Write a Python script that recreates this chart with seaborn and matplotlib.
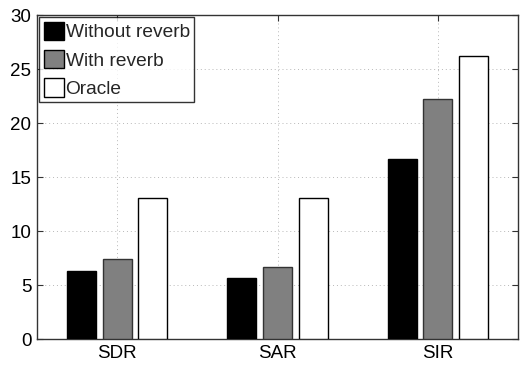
import matplotlib
matplotlib.use("Agg")
import matplotlib.pyplot as plt
import seaborn as sns
import pandas as pd

categories = ["SDR", "SAR", "SIR"]
series = ["Without reverb", "With reverb", "Oracle"]
without_reverb = [6.3, 5.65, 16.7]
with_reverb = [7.4, 6.67, 22.25]
oracle = [13.05, 13.08, 26.25]
colors = ["#000000", "#808080", "#ffffff"]
yticks = [0, 5, 10, 15, 20, 25, 30]

rows = []
for name, vals in zip(series, [without_reverb, with_reverb, oracle]):
    for c, v in zip(categories, vals):
        rows.append({"metric": c, "series": name, "value": v})
df = pd.DataFrame(rows)

sns.set_style("white")
plt.rcParams["font.family"] = ["Liberation Sans", "DejaVu Sans"]

fig = plt.figure(figsize=(5.23, 3.65), dpi=100)
ax = fig.add_axes([37/523, 1 - 339/365, 481/523, 324/365])

sns.barplot(data=df, x="metric", y="value", hue="series", order=categories,
            hue_order=series, palette=colors, width=0.666, gap=0.19,
            edgecolor="black", linewidth=1.0, ax=ax, legend=True, zorder=3)
for p in ax.patches:
    fc = p.get_facecolor()
    if abs(fc[0] - 0.5) < 0.05:
        p.set_edgecolor("#333333")

ax.set_xlim(-0.5, 2.5)
ax.set_ylim(0, 30)
ax.set_yticks(yticks)
ax.set_xlabel("")
ax.set_ylabel("")
ax.grid(True, linestyle=(0, (1, 3)), color="#b8b8b8", linewidth=0.7, zorder=0)
ax.set_axisbelow(True)
for s in ax.spines.values():
    s.set_visible(True)
    s.set_color("#333333")
    s.set_linewidth(1.0)
ax.tick_params(axis="both", direction="in", length=4, labelsize=13.5, colors="#333333",
               labelcolor="black", top=True, right=True, bottom=True, left=True, pad=4)

leg = ax.legend(loc="upper left", fontsize=13.8, frameon=True, fancybox=False,
                edgecolor="black", handlelength=1.05, handleheight=1.1,
                handletextpad=0.1, borderpad=0.22, labelspacing=0.45,
                borderaxespad=0.12)
leg.get_frame().set_linewidth(1.0)
for h in leg.legend_handles:
    h.set_edgecolor("black")

fig.savefig("out.png", dpi=100)
